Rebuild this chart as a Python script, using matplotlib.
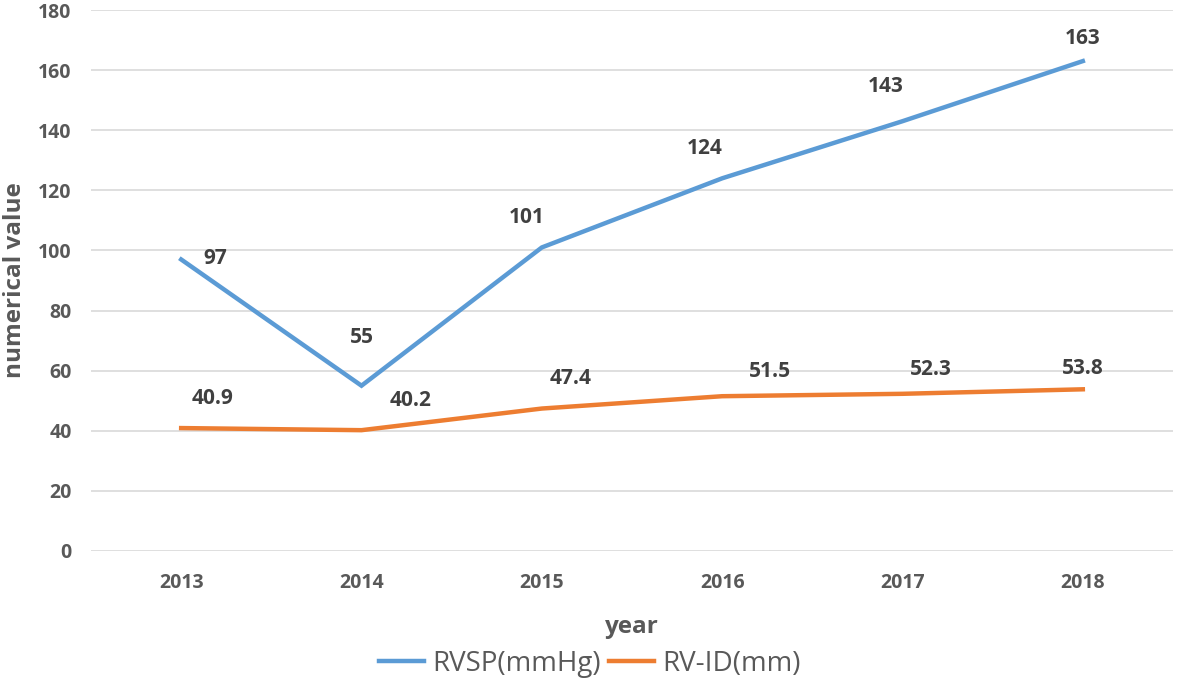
import matplotlib

matplotlib.use("Agg")

import matplotlib.pyplot as plt

years = ["2013", "2014", "2015", "2016", "2017", "2018"]
rvsp = [97, 55, 101, 124, 143, 163]
rvid = [40.9, 40.2, 47.4, 51.5, 52.3, 53.8]
rvsp_labels = ["97", "55", "101", "124", "143", "163"]
rvid_labels = ["40.9", "40.2", "47.4", "51.5", "52.3", "53.8"]

# label offsets in pixels
rvsp_offsets = [(34, 1), (0, 48), (-15, 30), (-17, 30), (-17, 35), (0, 23)]
rvid_offsets = [(31, 30), (49, 30), (29, 30), (48, 25), (28, 24), (0, 21)]

BLUE = "#5B9BD5"
ORANGE = "#ED7D31"
TICK = "#595959"
LABEL = "#404040"

plt.rcParams["font.family"] = ["Open Sans", "DejaVu Sans"]

fig = plt.figure(figsize=(11.81, 6.85), dpi=100)
ax = fig.add_axes([91 / 1181, 1 - 551 / 685, (1173 - 91) / 1181, (551 - 10) / 685])

x = list(range(len(years)))
ax.plot(x, rvsp, color=BLUE, lw=3.2, solid_joinstyle="miter", label="RVSP(mmHg)", zorder=3)
ax.plot(x, rvid, color=ORANGE, lw=3.2, solid_joinstyle="miter", label="RV-ID(mm)", zorder=3)

for xi, v, s, off in zip(x, rvsp, rvsp_labels, rvsp_offsets):
    ax.annotate(s, (xi, v), xytext=off, textcoords="offset pixels", ha="center", va="center",
                fontsize=15, fontweight="bold", color=LABEL)
for xi, v, s, off in zip(x, rvid, rvid_labels, rvid_offsets):
    ax.annotate(s, (xi, v), xytext=off, textcoords="offset pixels", ha="center", va="center",
                fontsize=15, fontweight="bold", color=LABEL)

ax.set_xlim(-0.5, len(years) - 0.5)
ax.set_ylim(0, 180)
ax.set_yticks(range(0, 181, 20))
ax.set_xticks(x)
ax.set_xticklabels(years)
ax.grid(axis="y", color="#D9D9D9", lw=1.2)
ax.set_axisbelow(True)
for side in ["top", "right", "left", "bottom"]:
    ax.spines[side].set_visible(False)
ax.tick_params(axis="x", pad=16)
ax.tick_params(axis="y", pad=14)
ax.tick_params(length=0, labelsize=14, labelcolor=TICK)
for lab in ax.get_xticklabels() + ax.get_yticklabels():
    lab.set_fontweight("bold")

ax.set_xlabel("year", fontsize=17.5, fontweight="bold", color=TICK, labelpad=16)
ax.set_ylabel("numerical value", fontsize=17.5, fontweight="bold", color=TICK, labelpad=8)

leg = fig.legend(loc="center", bbox_to_anchor=(590 / 1181, 1 - 664 / 685), ncol=2, frameon=False,
                 fontsize=20, handlelength=1.6, columnspacing=0.3, handletextpad=0.3, labelcolor=TICK)
for line in leg.get_lines():
    line.set_linewidth(3.2)

fig.savefig("out.png", dpi=100)
